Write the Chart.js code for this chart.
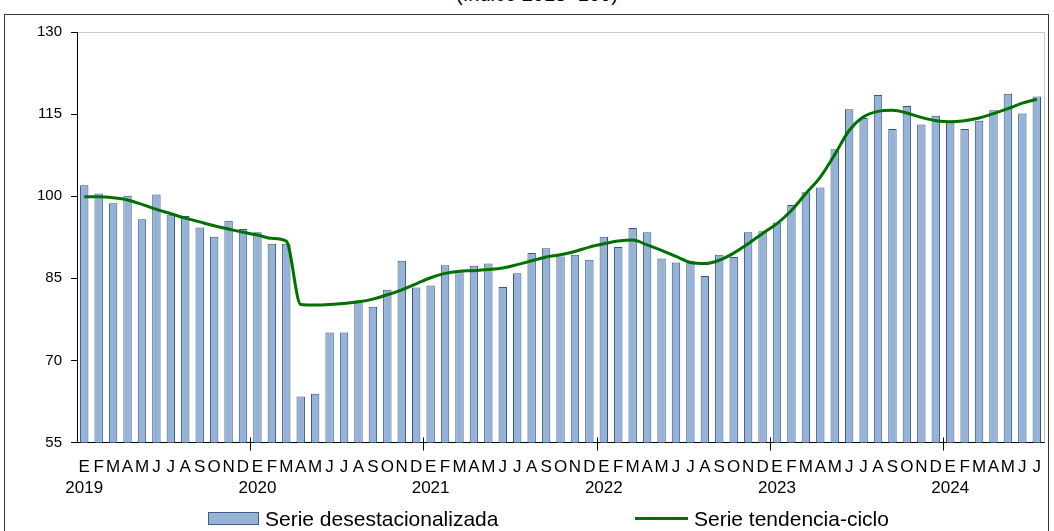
<!DOCTYPE html>
<html>
<head>
<meta charset="utf-8">
<script src="https://cdn.jsdelivr.net/npm/chart.js@4.4.1/dist/chart.umd.min.js"></script>
<style>
  html, body { margin: 0; padding: 0; background: #fff; overflow: hidden; }
  #wrap { position: relative; width: 1054px; height: 531px; font-family: "Liberation Sans", Arial, sans-serif; }
  #frame { position: absolute; left: 4px; top: 14px; width: 1045px; height: 530px; border: 1px solid #333; box-sizing: border-box; }
  #title { position: absolute; left: 0; width: 1074px; top: -17px; text-align: center; font-size: 20px; line-height: 22px; color: #000; }
  canvas { position: absolute; left: 0; top: 0; }
  .leg { position: absolute; top: 507px; font-size: 21px; line-height: 24px; color: #000; white-space: nowrap; }
  .leg i { display: inline-block; vertical-align: middle; margin-right: 6px; }
</style>
</head>
<body>
<div id="wrap">
  <div id="frame"></div>
  <div id="title">(Índice 2018=100)</div>
  <canvas id="c" width="1054" height="531"></canvas>
  <div class="leg" style="left:208px"><i style="width:49px;height:11px;background:#95b3d7;border:1px solid #3d5c86;margin-top:-3px"></i>Serie desestacionalizada</div>
  <div class="leg" style="left:635px"><i style="width:53px;height:3px;background:#007000;margin-top:-3px"></i>Serie tendencia-ciclo</div>
</div>
<script>
const MONTHS = ['E','F','M','A','M','J','J','A','S','O','N','D'];
const YEARS  = ['2019','2020','2021','2022','2023','2024'];
const N_MONTHS = 67;

// serie desestacionalizada (ene 2019 - jul 2024)
const desest = [
  102.0, 100.5, 98.7, 100.1, 95.8, 100.3, 96.5, 96.4, 94.3, 92.6, 95.5, 94.0,
  93.4, 91.3, 91.3, 63.4, 63.9, 75.1, 75.1, 80.9, 79.8, 82.9, 88.2, 83.3,
  83.7, 87.4, 86.1, 87.3, 87.7, 83.4, 85.9, 89.6, 90.5, 89.0, 89.3, 88.4,
  92.6, 90.7, 94.2, 93.4, 88.6, 87.9, 88.2, 85.4, 89.3, 88.9, 93.4, 93.6,
  95.2, 98.4, 100.7, 101.6, 108.6, 115.9, 114.3, 118.5, 112.3, 116.5, 113.1, 114.7,
  113.6, 112.3, 113.8, 115.7, 118.7, 115.1, 118.2
];

// serie tendencia-ciclo
const tendencia = [
  99.9, 99.9, 99.7, 99.3, 98.5, 97.6, 96.8, 96.0, 95.3, 94.6, 94.0, 93.4,
  92.9, 92.3, 91.8, 80.2, 80.1, 80.2, 80.4, 80.7, 81.2, 82.0, 82.9, 84.0,
  85.1, 85.9, 86.3, 86.4, 86.6, 86.9, 87.5, 88.2, 88.9, 89.3, 89.9, 90.7,
  91.3, 91.8, 92.0, 91.1, 90.1, 89.0, 87.9, 87.7, 88.3, 89.6, 91.3, 93.2,
  95.0, 97.4, 100.5, 103.5, 107.6, 112.0, 114.5, 115.5, 115.7, 115.2, 114.4, 113.8,
  113.6, 113.8, 114.3, 115.1, 116.0, 117.0, 117.7
];

const Y_MIN = 55, Y_MAX = 130, Y_STEP = 15;

const labels = [];
for (let i = 0; i < N_MONTHS; i++) {
  labels.push(i % 12 === 0 ? [MONTHS[0], YEARS[i / 12]] : MONTHS[i % 12]);
}

// right border of plot area + year tick marks crossing the axis
const extras = {
  id: 'extras',
  afterDraw(chart) {
    const { ctx, chartArea: a, scales: { x } } = chart;
    ctx.save();
    ctx.strokeStyle = '#c8c8c8';
    ctx.lineWidth = 1;
    ctx.beginPath();
    ctx.moveTo(Math.round(a.right) + 0.5, a.top);
    ctx.lineTo(Math.round(a.right) + 0.5, a.bottom);
    ctx.stroke();
    ctx.strokeStyle = '#000';
    ctx.beginPath();
    for (let i = 12; i < N_MONTHS; i += 12) {
      const px = Math.round((x.getPixelForValue(i - 1) + x.getPixelForValue(i)) / 2) + 0.5;
      ctx.moveTo(px, a.bottom - 5);
      ctx.lineTo(px, a.bottom + 8);
    }
    ctx.stroke();
    ctx.restore();
  }
};

new Chart(document.getElementById('c'), {
  data: {
    labels,
    datasets: [
      {
        type: 'line', label: 'Serie tendencia-ciclo', data: tendencia, order: 0,
        borderColor: '#007000', borderWidth: 3, pointRadius: 0,
        cubicInterpolationMode: 'monotone', fill: false
      },
      {
        type: 'bar', label: 'Serie desestacionalizada', data: desest, order: 1,
        backgroundColor: '#95b3d7', borderColor: '#34557f', borderWidth: 1,
        barPercentage: 0.6, categoryPercentage: 0.97
      }
    ]
  },
  options: {
    responsive: false,
    animation: false,
    layout: { padding: { left: 28, right: 10, top: 32, bottom: 26 } },
    plugins: { legend: { display: false }, tooltip: { enabled: false } },
    scales: {
      x: {
        grid: { display: false },
        border: { display: true, color: '#000', width: 1 },
        ticks: {
          autoSkip: false, maxRotation: 0, minRotation: 0, padding: 6,
          color: '#000', font: { family: 'Liberation Sans', size: 17, lineHeight: 1.25 }
        }
      },
      y: {
        min: Y_MIN, max: Y_MAX,
        border: { display: true, color: '#000', width: 1 },
        grid: {
          drawOnChartArea: true,
          color: c => c.tick && c.tick.value === Y_MAX ? '#c8c8c8' : 'rgba(0,0,0,0)',
          tickColor: '#000', tickLength: 6
        },
        ticks: {
          stepSize: Y_STEP, padding: 9, color: '#000',
          font: { family: 'Liberation Sans', size: 15 }
        }
      }
    }
  },
  plugins: [extras]
});
</script>
</body>
</html>
